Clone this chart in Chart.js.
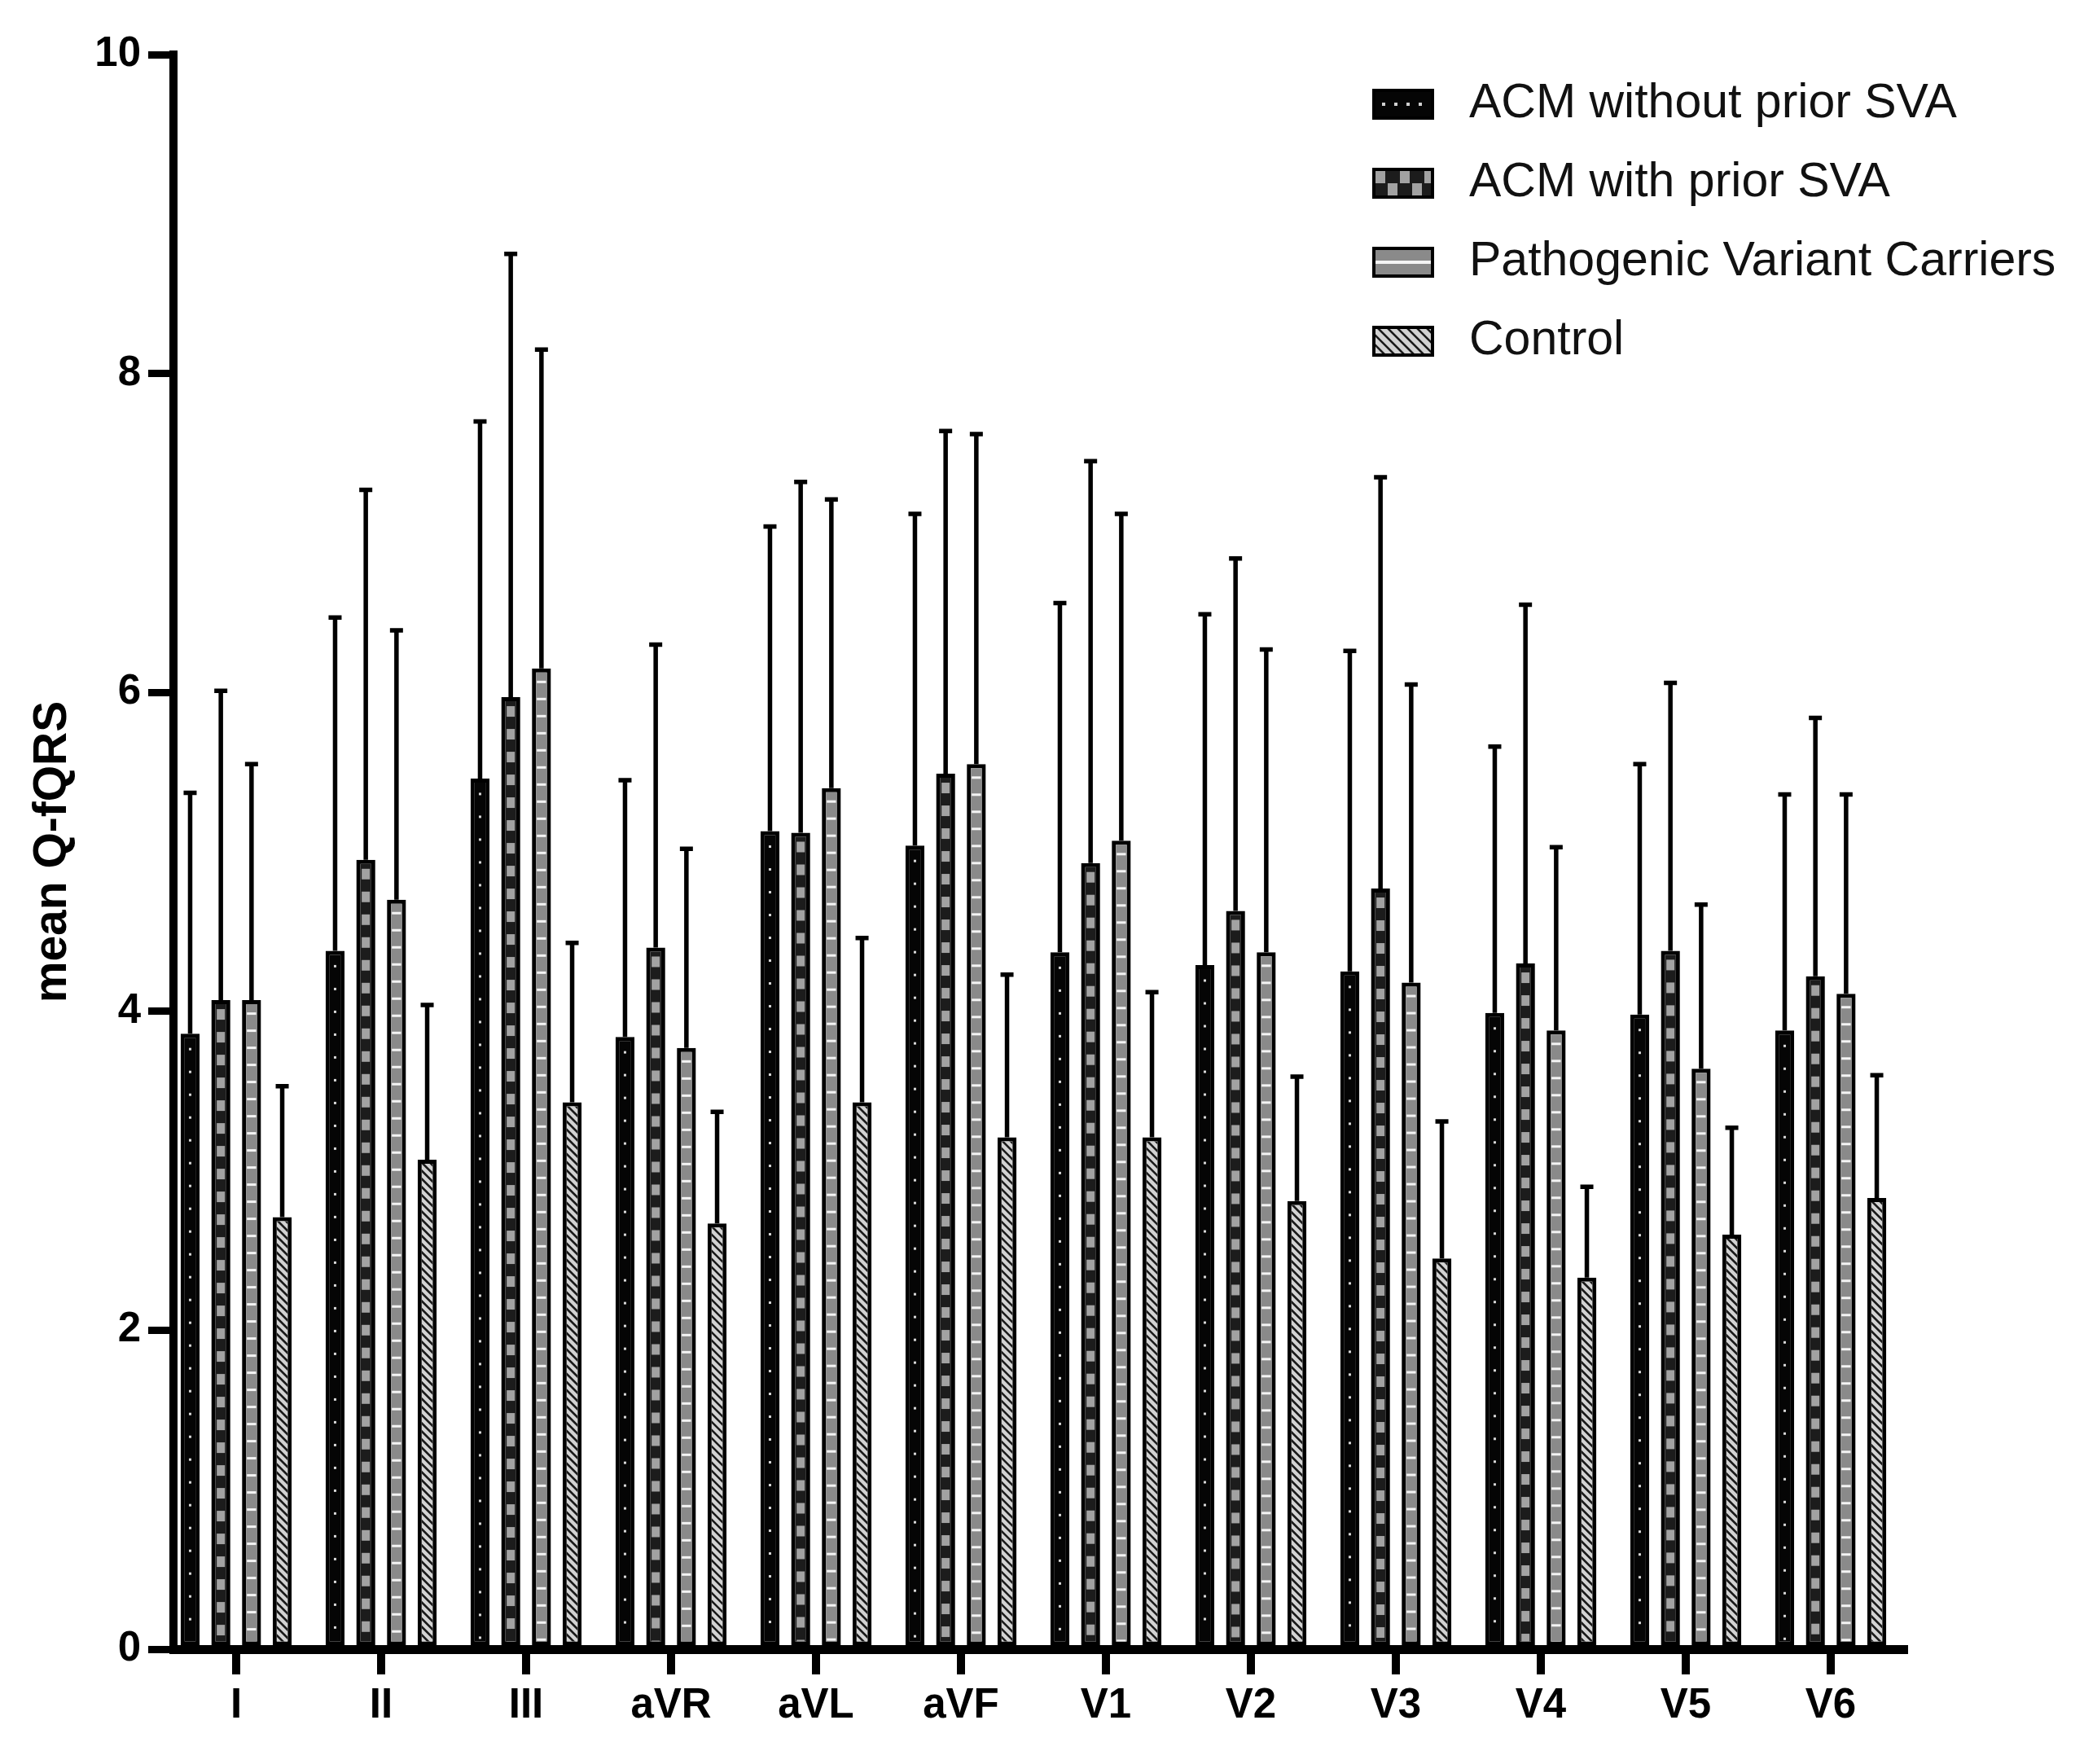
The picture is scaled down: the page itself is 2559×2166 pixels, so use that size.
<!DOCTYPE html>
<html><head><meta charset="utf-8">
<script src="https://cdn.jsdelivr.net/npm/chart.js@4.4.1/dist/chart.umd.min.js"></script>
<style>html,body{margin:0;padding:0;background:#fff;}canvas{display:block}</style>
</head><body>
<canvas id="c" width="2559" height="2166"></canvas>
<script>
// ---- data ----
const leads = ['I','II','III','aVR','aVL','aVF','V1','V2','V3','V4','V5','V6'];
const seriesNames = ['ACM without prior SVA','ACM with prior SVA','Pathogenic Variant Carriers','Control'];
const acmNoSva      = [3.86, 4.38, 5.46, 3.84, 5.13, 5.04, 4.37, 4.29, 4.25, 3.99, 3.98, 3.88];
const acmNoSvaUpper = [5.38, 6.48, 7.71, 5.46, 7.05, 7.13, 6.57, 6.50, 6.27, 5.67, 5.56, 5.37];
const acmSva        = [4.07, 4.95, 5.97, 4.40, 5.12, 5.49, 4.93, 4.63, 4.77, 4.30, 4.38, 4.22];
const acmSvaUpper   = [6.02, 7.28, 8.76, 6.31, 7.33, 7.65, 7.46, 6.85, 7.36, 6.56, 6.07, 5.85];
const carriers      = [4.07, 4.70, 6.15, 3.77, 5.40, 5.55, 5.07, 4.37, 4.18, 3.88, 3.64, 4.11];
const carriersUpper = [5.56, 6.40, 8.16, 5.03, 7.22, 7.63, 7.13, 6.28, 6.06, 5.04, 4.68, 5.37];
const control       = [2.71, 3.07, 3.43, 2.67, 3.43, 3.21, 3.21, 2.81, 2.45, 2.33, 2.60, 2.83];
const controlUpper  = [3.54, 4.05, 4.44, 3.38, 4.47, 4.24, 4.13, 3.60, 3.32, 2.91, 3.28, 3.61];
const yMin = 0, yMax = 10, yStep = 2;
const yTitle = 'mean Q-fQRS';

const seriesValues = [acmNoSva, acmSva, carriers, control];
const seriesUpper = [acmNoSvaUpper, acmSvaUpper, carriersUpper, controlUpper];

// ---- styles ----
const FONT = "'Liberation Sans', Arial, Helvetica, sans-serif";
const baseColors = ['#050505', '#1c1c1c', '#8a8a8a', '#d2d2d2'];
const BW = 5;

function drawBarMotif(ctx, k, l, t, r, b) {
  const cx = (l + r) / 2, w = r - l;
  if (k === 0) {
    ctx.fillStyle = '#d8d8d8';
    for (let y = t + 14; y < b - 2; y += 28) ctx.fillRect(cx - 1.5, y - 1.5, 3, 3);
  } else if (k === 1) {
    ctx.fillStyle = '#a2a2a2';
    for (let y = t + 6; y < b; y += 28) ctx.fillRect(cx - 5, y, 10, 13);
  } else if (k === 2) {
    ctx.fillStyle = '#f4f4f4';
    for (let y = t + 10; y < b; y += 21) ctx.fillRect(l + 1, y, w - 2, 3);
  } else {
    ctx.strokeStyle = '#1a1a1a'; ctx.lineWidth = 2.6;
    ctx.beginPath();
    for (let y = t - w - 10; y < b + 10; y += 10) { ctx.moveTo(l - 2, y); ctx.lineTo(r + 2, y + w + 4); }
    ctx.stroke();
  }
}
function drawLegendMotif(ctx, k, l, t, r, b) {
  const cy = (t + b) / 2, w = r - l, h = b - t;
  if (k === 0) {
    ctx.fillStyle = '#d0d0d0';
    for (let x = l + 12; x < r - 6; x += 15) ctx.fillRect(x - 2, cy - 2, 4, 4);
  } else if (k === 1) {
    ctx.fillStyle = '#a2a2a2';
    const s = h / 2;
    let col = 0;
    for (let x = l + 2; x < r; x += 15, col++) {
      ctx.fillRect(x, (col % 2 === 0) ? t : t + s, 12, s);
    }
  } else if (k === 2) {
    ctx.fillStyle = '#f4f4f4';
    ctx.fillRect(l, cy - 2, w, 4);
  } else {
    ctx.strokeStyle = '#1a1a1a'; ctx.lineWidth = 2.6;
    ctx.beginPath();
    for (let x = l - h; x < r + h; x += 12) { ctx.moveTo(x, t - 2); ctx.lineTo(x + h + 4, b + 2); }
    ctx.stroke();
  }
}

const patternPlugin = {
  id: 'patterns',
  afterDatasetDraw(chart, args) {
    const ctx = chart.ctx, k = args.index;
    args.meta.data.forEach(el => {
      const p = el.getProps(['x', 'y', 'base', 'width'], true);
      const l = p.x - p.width / 2 + BW, r = p.x + p.width / 2 - BW;
      const t = Math.min(p.y, p.base) + BW, b = Math.max(p.y, p.base) - BW;
      if (r <= l || b <= t) return;
      ctx.save();
      ctx.beginPath(); ctx.rect(l, t, r - l, b - t); ctx.clip();
      drawBarMotif(ctx, k, l, t, r, b);
      ctx.restore();
    });
  }
};

const errorPlugin = {
  id: 'errorbars',
  afterDatasetsDraw(chart) {
    const ctx = chart.ctx, ys = chart.scales.y;
    ctx.save();
    ctx.strokeStyle = '#000'; ctx.lineWidth = 5.5; ctx.lineCap = 'butt';
    chart.data.datasets.forEach((ds, i) => {
      const meta = chart.getDatasetMeta(i);
      meta.data.forEach((el, j) => {
        const p = el.getProps(['x', 'y'], true);
        const yt = ys.getPixelForValue(seriesUpper[i][j]);
        ctx.beginPath();
        ctx.moveTo(p.x, p.y); ctx.lineTo(p.x, yt);
        ctx.moveTo(p.x - 8, yt + 2); ctx.lineTo(p.x + 8, yt + 2);
        ctx.stroke();
      });
    });
    ctx.restore();
  }
};

const legendPlugin = {
  id: 'customLegend',
  afterDraw(chart) {
    const ctx = chart.ctx;
    const bx = 1687, bw = 72, bh = 34, rowY = 128, rowGap = 97, tx = 1804;
    ctx.save();
    chart.data.datasets.forEach((ds, i) => {
      const cy = rowY + i * rowGap;
      const t = cy - bh / 2;
      ctx.fillStyle = baseColors[i];
      ctx.fillRect(bx, t, bw, bh);
      ctx.save();
      ctx.beginPath(); ctx.rect(bx, t, bw, bh); ctx.clip();
      drawLegendMotif(ctx, i, bx, t, bx + bw, t + bh);
      ctx.restore();
      ctx.strokeStyle = '#000'; ctx.lineWidth = 4;
      ctx.strokeRect(bx, t, bw, bh);
      ctx.fillStyle = '#111';
      ctx.font = '59px ' + FONT;
      ctx.textAlign = 'left'; ctx.textBaseline = 'middle';
      ctx.fillText(ds.label, tx, cy);
    });
    ctx.restore();
  }
};

const datasets = seriesValues.map((vals, i) => ({
  label: seriesNames[i],
  data: vals.map((v, j) => ({ x: j, y: v })),
  backgroundColor: baseColors[i],
  borderColor: '#000',
  borderWidth: BW,
  borderSkipped: false,
  categoryPercentage: 0.847,
  barPercentage: 0.62
}));

new Chart(document.getElementById('c').getContext('2d'), {
  type: 'bar',
  data: { datasets },
  options: {
    responsive: false,
    devicePixelRatio: 1,
    animation: false,
    layout: { padding: { top: 67, right: 221, left: 0, bottom: 0 } },
    plugins: { legend: { display: false }, tooltip: { enabled: false } },
    scales: {
      x: {
        type: 'linear', min: -0.4326, max: 11.5056, z: 1, offset: false,
        afterFit(s) { s.height = 141; },
        grid: { offset: false, drawOnChartArea: false, drawTicks: true, tickLength: 31, tickWidth: 10, tickColor: '#000', color: '#000', lineWidth: 10 },
        border: { display: true, color: '#000', width: 11 },
        ticks: {
          stepSize: 1, includeBounds: false, autoSkip: false, maxRotation: 0, minRotation: 0, padding: 8, color: '#000',
          font: { family: FONT, size: 51, weight: 'bold' },
          callback: (v) => (Number.isInteger(v) && leads[v] !== undefined) ? leads[v] : ''
        }
      },
      y: {
        type: 'linear', min: yMin, max: yMax, z: 1,
        afterFit(s) { s.width = 213; },
        grid: { drawOnChartArea: false, drawTicks: true, tickLength: 31, tickWidth: 9, tickColor: '#000', color: '#000', lineWidth: 9 },
        border: { display: true, color: '#000', width: 10 },
        ticks: { stepSize: yStep, padding: 9, color: '#000', font: { family: FONT, size: 51, weight: 'bold' } },
        title: { display: true, text: yTitle, color: '#000', font: { family: FONT, size: 57, weight: 'bold' }, padding: { top: 31, bottom: 0 } }
      }
    }
  },
  plugins: [patternPlugin, errorPlugin, legendPlugin]
});
</script>
</body></html>
